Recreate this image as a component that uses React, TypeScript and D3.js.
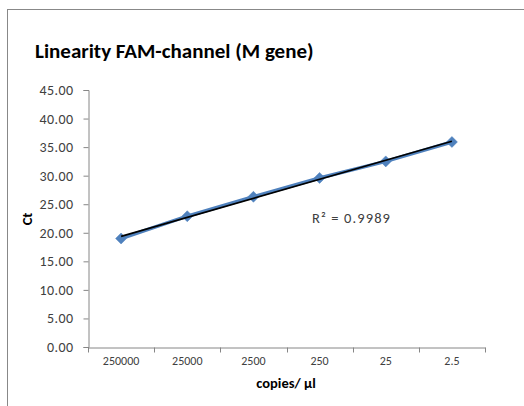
import React, { useEffect, useRef } from 'react';
import * as d3 from 'd3';

// copies per µl (dilution series) and measured Ct
const categories = ['250000', '25000', '2500', '250', '25', '2.5'];
const ctValues = [19.0, 22.9, 26.3, 29.6, 32.5, 35.9];
const yTicks = [0, 5, 10, 15, 20, 25, 30, 35, 40, 45];
const rSquaredLabel = 'R² = 0.9989';

const App = () => {
  const svgRef = useRef<SVGSVGElement>(null);

  useEffect(() => {
    const svg = d3.select(svgRef.current);
    svg.selectAll('*').remove();

    const width = 524;
    const height = 406;
    const font = 'Carlito, Calibri, "Liberation Sans", Arial, sans-serif';
    const axisColor = '#868686';
    const blue = '#4F81BD';

    // outer chart frame
    svg.append('rect')
      .attr('x', 7.5).attr('y', 9.5)
      .attr('width', width).attr('height', height)
      .attr('fill', '#fff').attr('stroke', '#888').attr('stroke-width', 1);

    const plot = { left: 88, right: 485, top: 90, bottom: 347 };

    const x = d3.scaleBand()
      .domain(categories)
      .range([plot.left, plot.right]);

    const y = d3.scaleLinear()
      .domain([0, 45])
      .range([plot.bottom, plot.top]);

    // title
    svg.append('text')
      .attr('x', 35).attr('y', 58)
      .attr('font-family', font)
      .attr('font-weight', 'bold')
      .attr('font-size', 21)
      .attr('fill', '#000')
      .text('Linearity FAM-channel (M gene)');

    // y axis
    const yAxis = svg.append('g')
      .attr('transform', `translate(${plot.left + 0.5},0)`)
      .call(d3.axisLeft(y).tickValues(yTicks).tickFormat(d3.format('.2f')).tickSize(5).tickPadding(10));
    yAxis.select('.domain').attr('stroke', axisColor);
    yAxis.selectAll('line').attr('stroke', axisColor);
    yAxis.selectAll('text')
      .attr('font-family', font).attr('font-size', 14).attr('letter-spacing', 0.4).attr('fill', '#404040');

    // x axis
    const xAxis = svg.append('g')
      .attr('transform', `translate(0,${plot.bottom + 0.5})`)
      .call(d3.axisBottom(x).tickSize(0).tickPadding(9));
    xAxis.select('.domain').attr('stroke', axisColor);
    xAxis.selectAll('text')
      .attr('font-family', font).attr('font-size', 12).attr('fill', '#404040');
    // tick marks on category boundaries
    const boundaries = categories.map(c => x(c) as number).concat([plot.right]);
    xAxis.selectAll('line.boundary')
      .data(boundaries)
      .enter().append('line')
      .attr('class', 'boundary')
      .attr('x1', d => Math.round(d) + 0.5).attr('x2', d => Math.round(d) + 0.5)
      .attr('y1', 0).attr('y2', 5)
      .attr('stroke', axisColor);

    // axis titles
    svg.append('text')
      .attr('x', 286).attr('y', 388)
      .attr('text-anchor', 'middle')
      .attr('font-family', font).attr('font-weight', 'bold').attr('font-size', 14.5)
      .text('copies/ µl');

    svg.append('text')
      .attr('transform', 'translate(32,219) rotate(-90)')
      .attr('text-anchor', 'middle')
      .attr('font-family', font).attr('font-weight', 'bold').attr('font-size', 14.5)
      .text('Ct');

    const cx = (c: string) => (x(c) as number) + x.bandwidth() / 2;

    // data line
    const line = d3.line<number>()
      .x((d, i) => cx(categories[i]))
      .y(d => y(d));

    svg.append('path')
      .datum(ctValues)
      .attr('d', line)
      .attr('fill', 'none')
      .attr('stroke', blue)
      .attr('stroke-width', 3.5);

    // trend line (least squares over category index)
    const n = ctValues.length;
    const xs = ctValues.map((_, i) => i + 1);
    const mx = d3.mean(xs) as number;
    const my = d3.mean(ctValues) as number;
    const slope = d3.sum(xs.map((xi, i) => (xi - mx) * (ctValues[i] - my))) /
      d3.sum(xs.map(xi => (xi - mx) ** 2));
    const intercept = my - slope * mx;

    // markers: square diamonds
    const r = 5.5;
    svg.selectAll('path.marker')
      .data(ctValues)
      .enter().append('path')
      .attr('class', 'marker')
      .attr('d', `M0,${-r}L${r},0L0,${r}L${-r},0Z`)
      .attr('transform', (d, i) => `translate(${cx(categories[i])},${y(d)})`)
      .attr('fill', blue)
      .attr('stroke', blue)
      .attr('stroke-width', 0.5);

    svg.append('line')
      .attr('x1', cx(categories[0])).attr('y1', y(intercept + slope * 1))
      .attr('x2', cx(categories[n - 1])).attr('y2', y(intercept + slope * n))
      .attr('stroke', '#000')
      .attr('stroke-width', 1.6);

    // R² label
    svg.append('text')
      .attr('x', 312).attr('y', 223)
      .attr('font-family', font).attr('font-size', 14.5).attr('letter-spacing', 1.1).attr('fill', '#404040')
      .text(rSquaredLabel);
  }, []);

  return (
    <svg ref={svgRef} width={524} height={406}
      style={{ position: 'absolute', left: 0, top: 0, background: '#fff' }} />
  );
};

export default App;
